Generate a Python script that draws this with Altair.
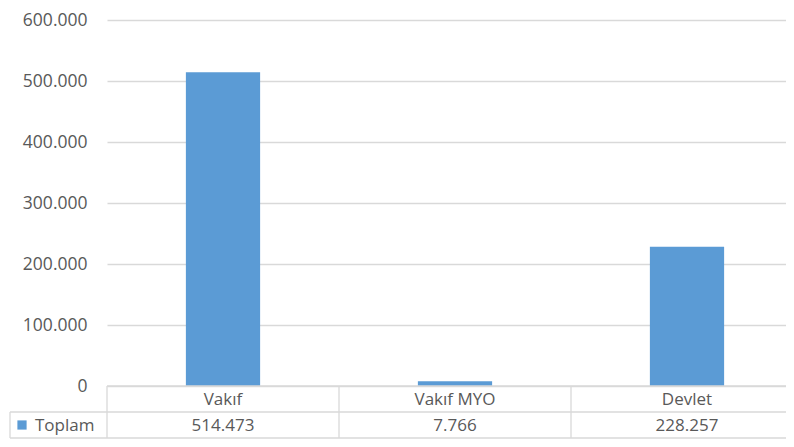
import altair as alt
import pandas as pd

categories = ["Vakıf", "Vakıf MYO", "Devlet"]
values = [514473, 7766, 228257]
series_name = ["Toplam"]
y_ticks = [0, 100000, 200000, 300000, 400000, 500000, 600000]

df = pd.DataFrame({"cat": categories, "val": values})
one = pd.DataFrame({"name": series_name})

BLUE = "#5B9BD5"
GRID = "#d9d9d9"
TXT = "#595959"
FONT = "Open Sans"
W, H = 679, 366
STEP = 232
R1, R2 = 26, 52  # table row lines below plot

xenc = alt.X("cat:N", sort=categories, axis=None,
             scale=alt.Scale(paddingInner=0, paddingOuter=0, range=[0, 3 * STEP]))
fmt = "replace(format(datum.value, ','), ',', '.')"

bars = alt.Chart(df).mark_bar(color=BLUE, width=alt.RelativeBandSize(0.32)).encode(
    x=xenc,
    y=alt.Y("val:Q", scale=alt.Scale(domain=[0, 600000]),
            axis=alt.Axis(values=y_ticks, title=None, domain=False, ticks=False,
                          grid=True, gridColor=GRID, gridWidth=1.3,
                          labelPadding=20, labelFontSize=17.5, labelColor=TXT,
                          labelFont=FONT, labelExpr=fmt)),
)

cat_text = alt.Chart(df).mark_text(font=FONT, fontSize=17, color=TXT).encode(
    x=xenc, y=alt.value(H + R1 / 2 + 1), text="cat:N")

val_text = alt.Chart(df).transform_calculate(
    lbl="replace(format(datum.val, ','), ',', '.')"
).mark_text(font=FONT, fontSize=17, color=TXT).encode(
    x=xenc, y=alt.value(H + (R1 + R2) / 2 + 1), text="lbl:N")

vlines = alt.Chart(df).mark_rule(color=GRID, strokeWidth=1.3).encode(
    x=alt.X("cat:N", sort=categories, bandPosition=0, axis=None),
    y=alt.value(H), y2=alt.value(H + R2))

base1 = alt.Chart(one)
hline_top = base1.mark_rule(color=GRID, strokeWidth=1.3).encode(
    x=alt.value(0), x2=alt.value(W), y=alt.value(H))
hline_mid = base1.mark_rule(color=GRID, strokeWidth=1.3).encode(
    x=alt.value(-97), x2=alt.value(W), y=alt.value(H + R1))
hline_bot = base1.mark_rule(color=GRID, strokeWidth=1.3).encode(
    x=alt.value(-97), x2=alt.value(W), y=alt.value(H + R2))
lline = base1.mark_rule(color=GRID, strokeWidth=1.3).encode(
    x=alt.value(-97), y=alt.value(H + R1), y2=alt.value(H + R2))
legend_sq = base1.mark_square(color=BLUE, size=85, opacity=1).encode(
    x=alt.value(-85), y=alt.value(H + (R1 + R2) / 2))
legend_txt = base1.mark_text(font=FONT, fontSize=17, color=TXT, align="left").encode(
    x=alt.value(-72), y=alt.value(H + (R1 + R2) / 2 + 1), text="name:N")

chart = alt.layer(
    bars, vlines, hline_top, hline_mid, hline_bot, lline,
    cat_text, val_text, legend_sq, legend_txt
).properties(
    width=W, height=H,
    padding={"left": 99, "top": 12, "right": 0, "bottom": 53},
    autosize="none",
    background="white",
).configure_view(stroke=None)

chart.save("out.html", embed_options={"renderer": "svg", "actions": False})
